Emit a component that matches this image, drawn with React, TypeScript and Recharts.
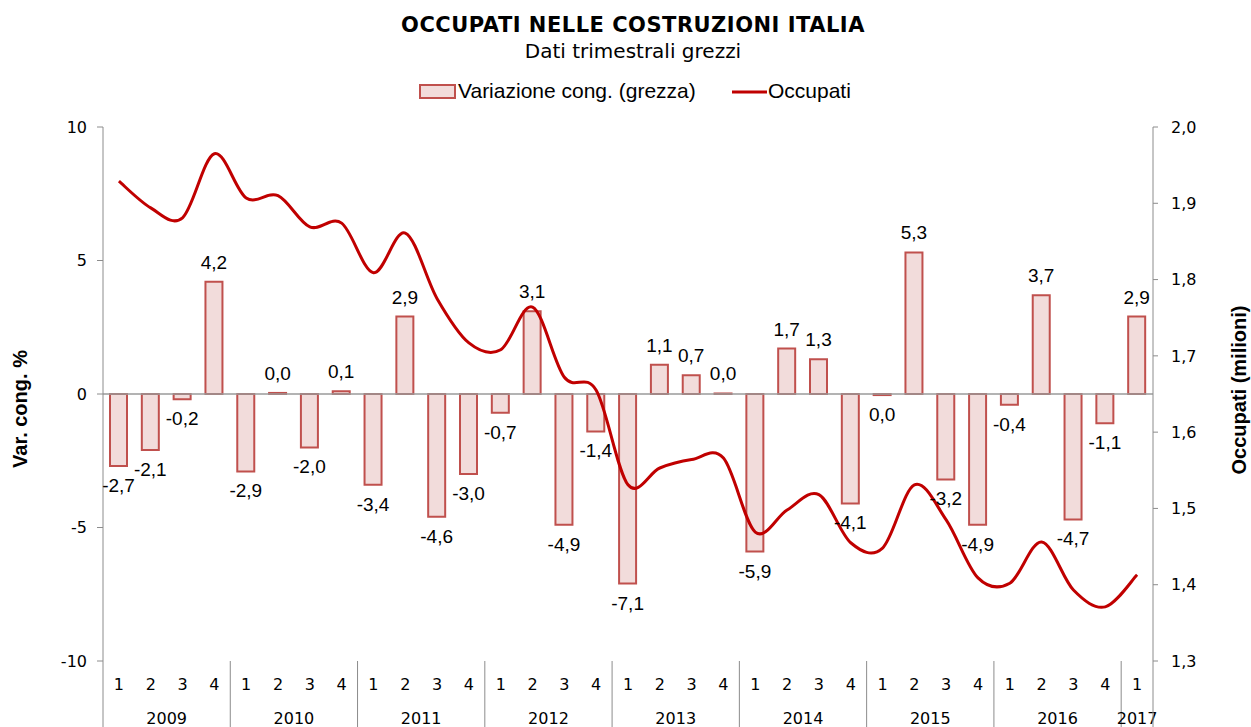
import React from "react";
import { ComposedChart, Bar, Line, XAxis, YAxis, ReferenceLine, LabelList } from "recharts";

const quarterLabels = [
  "1", "2", "3", "4", "1", "2", "3", "4", "1", "2", "3", "4",
  "1", "2", "3", "4", "1", "2", "3", "4", "1", "2", "3", "4",
  "1", "2", "3", "4", "1", "2", "3", "4", "1",
];

const yearLabels = [
  "2009", "2009", "2009", "2009", "2010", "2010", "2010", "2010",
  "2011", "2011", "2011", "2011", "2012", "2012", "2012", "2012",
  "2013", "2013", "2013", "2013", "2014", "2014", "2014", "2014",
  "2015", "2015", "2015", "2015", "2016", "2016", "2016", "2016",
  "2017",
];

// variazione congiunturale (%), tiny non-zero values are printed as 0,0
const variazione = [
  -2.7, -2.1, -0.2, 4.2,
  -2.9, 0.04, -2.0, 0.1,
  -3.4, 2.9, -4.6, -3.0,
  -0.7, 3.1, -4.9, -1.4,
  -7.1, 1.1, 0.7, 0.02,
  -5.9, 1.7, 1.3, -4.1,
  -0.04, 5.3, -3.2, -4.9,
  -0.4, 3.7, -4.7, -1.1,
  2.9,
];

// occupati (milioni)
const occupati = [
  1.929, 1.894, 1.881, 1.965,
  1.907, 1.910, 1.869, 1.874,
  1.809, 1.861, 1.775, 1.717,
  1.708, 1.764, 1.672, 1.655,
  1.531, 1.553, 1.564, 1.566,
  1.469, 1.498, 1.518, 1.455,
  1.448, 1.531, 1.485, 1.409,
  1.402, 1.456, 1.393, 1.371,
  1.413,
];

const leftTicks = [-10, -5, 0, 5, 10];
const rightTicks = [1.3, 1.4, 1.5, 1.6, 1.7, 1.8, 1.9, 2.0];

const data = quarterLabels.map((q, i) => ({
  key: yearLabels[i] + "-" + q,
  q,
  year: yearLabels[i],
  variazione: variazione[i],
  occupati: occupati[i],
}));

const W = 1251;
const H = 727;
const LEFT = 103;
const RIGHT_AXIS_W = 98;
const TOP = 127;
const XAXIS_H = 66;
const BAND = (W - LEFT - RIGHT_AXIS_W) / data.length;

const tickFont = "'DejaVu Sans', Verdana, sans-serif";
const labelFont = "'Liberation Sans', Arial, sans-serif";
const gridGray = "#8c8c8c";

const fmt = (v: number) => {
  const r = Math.round(v * 10) / 10;
  if (r === 0) return "0,0";
  return r.toFixed(1).replace(".", ",");
};

// Excel-like smoothed line (Catmull-Rom through the points)
const smoothCurve = (context: any) => {
  let pts: number[][] = [];
  return {
    areaStart() {},
    areaEnd() {},
    lineStart() {
      pts = [];
    },
    point(x: number, y: number) {
      pts.push([+x, +y]);
    },
    lineEnd() {
      if (!pts.length) return;
      context.moveTo(pts[0][0], pts[0][1]);
      for (let i = 0; i < pts.length - 1; i++) {
        const p0 = pts[i - 1] || pts[i];
        const p1 = pts[i];
        const p2 = pts[i + 1];
        const p3 = pts[i + 2] || pts[i + 1];
        context.bezierCurveTo(
          p1[0] + (p2[0] - p0[0]) / 6,
          p1[1] + (p2[1] - p0[1]) / 6,
          p2[0] - (p3[0] - p1[0]) / 6,
          p2[1] - (p3[1] - p1[1]) / 6,
          p2[0],
          p2[1]
        );
      }
    },
  };
};

function QuarterTick(props: any) {
  const { x, y, index } = props;
  const d = data[index];
  const n = yearLabels.filter((yr) => yr === d.year).length;
  const isFirst = index === 0 || yearLabels[index - 1] !== d.year;
  const isLast = index === data.length - 1;
  return (
    <g>
      <text x={x} y={y + 29} textAnchor="middle" fontFamily={tickFont} fontSize={16} fill="#000">
        {d.q}
      </text>
      {isFirst && (
        <>
          <line x1={x - BAND / 2} x2={x - BAND / 2} y1={y} y2={H} stroke={gridGray} strokeWidth={1} />
          <text
            x={x + (BAND * (n - 1)) / 2}
            y={y + 63}
            textAnchor="middle"
            fontFamily={tickFont}
            fontSize={16}
            fill="#000"
          >
            {d.year}
          </text>
        </>
      )}
      {isLast && (
        <line x1={x + BAND / 2} x2={x + BAND / 2} y1={y} y2={H} stroke={gridGray} strokeWidth={1} />
      )}
    </g>
  );
}

function BarLabel(props: any) {
  const { x, y, width, height, value } = props;
  const top = Math.min(y, y + height);
  const bottom = Math.max(y, y + height);
  const below = value < 0;
  return (
    <text
      x={x + width / 2}
      y={below ? bottom + 26 : top - 13}
      textAnchor="middle"
      fontFamily={labelFont}
      fontSize={19}
      fill="#000"
    >
      {fmt(value)}
    </text>
  );
}

export default function App() {
  return (
    <div style={{ position: "absolute", left: 0, top: 0, width: W, height: H, background: "#fff" }}>
      <ComposedChart width={W} height={H} data={data} margin={{ top: TOP, right: 0, bottom: 0, left: 0 }}>
        <XAxis
          dataKey="key"
          height={XAXIS_H}
          axisLine={false}
          tickLine={false}
          tickSize={0}
          tickMargin={0}
          interval={0}
          tick={<QuarterTick />}
        />
        <YAxis
          yAxisId="left"
          width={LEFT}
          domain={[-10, 10]}
          ticks={leftTicks}
          interval={0}
          stroke={gridGray}
          tickSize={6}
          tickMargin={10}
          tick={{ fill: "#000", fontFamily: tickFont, fontSize: 16 }}
        />
        <YAxis
          yAxisId="right"
          orientation="right"
          width={RIGHT_AXIS_W}
          domain={[1.3, 2.0]}
          ticks={rightTicks}
          interval={0}
          stroke={gridGray}
          tickSize={5}
          tickMargin={13}
          tick={{ fill: "#000", fontFamily: tickFont, fontSize: 16, textAnchor: "start" }}
          tickFormatter={(v: number) => v.toFixed(1).replace(".", ",")}
        />
        <ReferenceLine yAxisId="left" y={0} stroke="#9a9a9a" strokeWidth={1.5} />
        <Bar
          yAxisId="left"
          dataKey="variazione"
          barSize={17}
          fill="#F2DCDB"
          stroke="#C0504D"
          strokeWidth={2}
          isAnimationActive={false}
        >
          <LabelList dataKey="variazione" content={<BarLabel />} />
        </Bar>
        <Line
          yAxisId="right"
          dataKey="occupati"
          type={smoothCurve as any}
          stroke="#C00000"
          strokeWidth={3}
          dot={false}
          activeDot={false}
          isAnimationActive={false}
        />
      </ComposedChart>
      <svg
        width={W}
        height={H}
        style={{ position: "absolute", left: 0, top: 0, pointerEvents: "none" }}
      >
        <text x={633} y={32} textAnchor="middle" fontFamily={tickFont} fontWeight="bold" fontSize={21} letterSpacing={0.5} fill="#000">
          OCCUPATI NELLE COSTRUZIONI ITALIA
        </text>
        <text x={633} y={58} textAnchor="middle" fontFamily={tickFont} fontSize={20} fill="#000">
          Dati trimestrali grezzi
        </text>
        <rect x={420} y={85} width={35} height={13} fill="#F2DCDB" stroke="#C0504D" strokeWidth={2} />
        <text x={458} y={98} fontFamily={labelFont} fontSize={21} fill="#000">
          Variazione cong. (grezza)
        </text>
        <line x1={732} x2={767} y1={92} y2={92} stroke="#C00000" strokeWidth={3} />
        <text x={768} y={98} fontFamily={labelFont} fontSize={21} fill="#000">
          Occupati
        </text>
        <text
          transform="translate(27,409) rotate(-90)"
          textAnchor="middle"
          fontFamily={labelFont}
          fontWeight="bold"
          fontSize={20}
          fill="#000"
        >
          Var. cong. %
        </text>
        <text
          transform="translate(1246,390) rotate(-90)"
          textAnchor="middle"
          fontFamily={labelFont}
          fontWeight="bold"
          fontSize={20}
          fill="#000"
        >
          Occupati (milioni)
        </text>
      </svg>
    </div>
  );
}
